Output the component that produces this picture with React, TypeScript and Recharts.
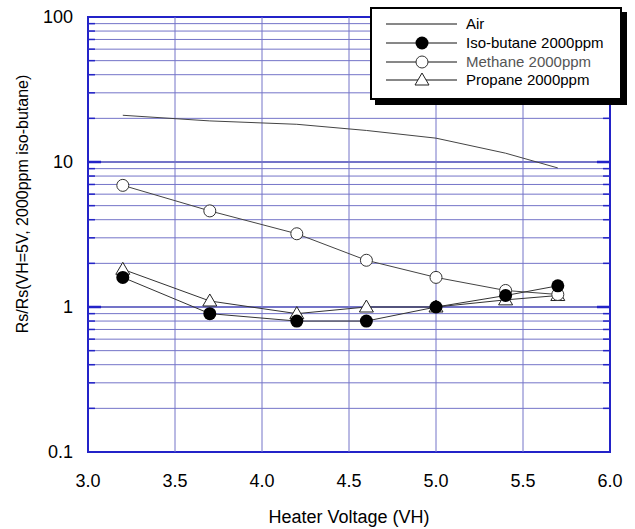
import React from 'react';
import { LineChart, Line, XAxis, YAxis, ReferenceLine, ReferenceArea, Legend } from 'recharts';

const voltages = [3.2, 3.7, 4.2, 4.6, 5.0, 5.4, 5.7];
const air = [21, 19.2, 18.2, 16.5, 14.6, 11.5, 9.1];
const isoButane = [1.6, 0.9, 0.8, 0.8, 1.0, 1.2, 1.4];
const methane = [6.9, 4.6, 3.2, 2.1, 1.6, 1.3, 1.22];
const propane = [1.82, 1.1, 0.9, 1.0, 1.0, 1.12, 1.2];

const xTicks = [3.0, 3.5, 4.0, 4.5, 5.0, 5.5, 6.0];
const yTicks = [0.1, 1, 10, 100];
const xGrid = [3.5, 4.0, 4.5, 5.0, 5.5];
const majorGrid = [1, 10];
const minorGrid = [0.2, 0.3, 0.4, 0.5, 0.6, 0.7, 0.8, 0.9, 2, 3, 4, 5, 6, 7, 8, 9, 20, 30, 40, 50, 60, 70, 80, 90];

const data = voltages.map((v, i) => ({
  v,
  air: air[i],
  iso: isoButane[i],
  methane: methane[i],
  propane: propane[i],
}));

const FONT = '"Liberation Sans", Arial, Helvetica, sans-serif';
const GRID = '#7474c8';
const AXIS = '#2323c8';
const LINE = '#333333';

const Triangle = (props: any) => {
  const { cx, cy } = props;
  if (cx == null || cy == null) return null;
  return (
    <path
      d={`M${cx},${cy - 7} L${cx + 7},${cy + 5} L${cx - 7},${cy + 5} Z`}
      fill="#fff"
      stroke="#222"
      strokeWidth={1}
    />
  );
};

const legendRows = [
  { label: 'Air', marker: 'none', color: '#000' },
  { label: 'Iso-butane 2000ppm', marker: 'filled', color: '#000' },
  { label: 'Methane 2000ppm', marker: 'open', color: '#555' },
  { label: 'Propane 2000ppm', marker: 'triangle', color: '#000' },
];

const LegendBox = () => (
  <div
    style={{
      width: 252,
      height: 93,
      background: '#fff',
      border: '2px solid #000',
      boxShadow: '5px 5px 0 #000',
      boxSizing: 'border-box',
      fontFamily: FONT,
      fontSize: 15,
      paddingTop: 6,
    }}
  >
    {legendRows.map((r) => (
      <div key={r.label} style={{ display: 'flex', alignItems: 'center', height: 18.7 }}>
        <svg width={94} height={18} style={{ display: 'block' }}>
          <line x1={14} y1={9} x2={85} y2={9} stroke="#111" strokeWidth={1} />
          {r.marker === 'filled' && <circle cx={50} cy={9} r={6.5} fill="#000" />}
          {r.marker === 'open' && <circle cx={50} cy={9} r={6} fill="#fff" stroke="#333" />}
          {r.marker === 'triangle' && (
            <path d="M50,2 L57,14 L43,14 Z" fill="#fff" stroke="#222" />
          )}
        </svg>
        <span style={{ color: r.color, lineHeight: '18px', whiteSpace: 'nowrap' }}>{r.label}</span>
      </div>
    ))}
  </div>
);

const YTick = (props: any) => {
  const { x, y, payload } = props;
  return (
    <text x={x} y={y} dy={6} textAnchor="end" fontFamily={FONT} fontSize={18} fill="#000">
      {String(payload.value)}
    </text>
  );
};

const XTick = (props: any) => {
  const { x, y, payload } = props;
  return (
    <text x={x} y={y} dy={6} dominantBaseline="central" textAnchor="middle" fontFamily={FONT} fontSize={18} fill="#000">
      {Number(payload.value).toFixed(1)}
    </text>
  );
};

export default function App() {
  const minorLen = 0.04;
  const majorLen = 0.075;
  return (
    <div style={{ position: 'absolute', left: 0, top: 0, width: 635, height: 529, background: '#fff' }}>
      <LineChart
        width={635}
        height={529}
        data={data}
        margin={{ top: 17, right: 25, bottom: 0, left: 0 }}
      >
        <XAxis
          dataKey="v"
          type="number"
          domain={[3, 6]}
          ticks={xTicks}
          tick={<XTick />}
          tickLine={false}
          axisLine={false}
          tickSize={0}
          tickMargin={23}
          height={77}
          allowDataOverflow
          label={(p: any) => (
            <text
              x={349}
              y={517}
              textAnchor="middle"
              dominantBaseline="central"
              fontFamily={FONT}
              fontSize={18}
              fill="#000"
            >
              Heater Voltage (VH)
            </text>
          )}
        />
        <YAxis
          type="number"
          scale="log"
          domain={[0.1, 100]}
          ticks={yTicks}
          tick={<YTick />}
          tickLine={false}
          axisLine={false}
          tickSize={0}
          tickMargin={15}
          width={88}
          allowDataOverflow
          label={(p: any) => (
            <text
              x={22}
              y={204}
              transform="rotate(-90 22 204)"
              textAnchor="middle"
              dominantBaseline="central"
              fontFamily={FONT}
              fontSize={16}
              fill="#000"
            >
              Rs/Rs(VH=5V, 2000ppm iso-butane)
            </text>
          )}
        />
        {minorGrid.map((g) => (
          <ReferenceLine key={'m' + g} y={g} stroke={GRID} strokeWidth={1} />
        ))}
        {majorGrid.map((g) => (
          <ReferenceLine key={'M' + g} y={g} stroke={GRID} strokeWidth={2} />
        ))}
        {xGrid.map((g) => (
          <ReferenceLine key={'x' + g} x={g} stroke={GRID} strokeWidth={1} />
        ))}
        {minorGrid.map((g) => (
          <ReferenceLine key={'tl' + g} segment={[{ x: 3, y: g }, { x: 3 + minorLen, y: g }]} stroke={AXIS} strokeWidth={1.5} />
        ))}
        {minorGrid.map((g) => (
          <ReferenceLine key={'tr' + g} segment={[{ x: 6 - minorLen, y: g }, { x: 6, y: g }]} stroke={AXIS} strokeWidth={1.5} />
        ))}
        {majorGrid.map((g) => (
          <ReferenceLine key={'Tl' + g} segment={[{ x: 3, y: g }, { x: 3 + majorLen, y: g }]} stroke={AXIS} strokeWidth={2.5} />
        ))}
        {majorGrid.map((g) => (
          <ReferenceLine key={'Tr' + g} segment={[{ x: 6 - majorLen, y: g }, { x: 6, y: g }]} stroke={AXIS} strokeWidth={2.5} />
        ))}
        <ReferenceArea x1={3} x2={6} y1={0.1} y2={100} stroke={AXIS} strokeWidth={2} fill="none" fillOpacity={0} />
        <Line dataKey="air" stroke="#444" strokeWidth={1} dot={false} isAnimationActive={false} />
        <Line dataKey="propane" stroke={LINE} strokeWidth={1} dot={<Triangle />} isAnimationActive={false} />
        <Line dataKey="methane" stroke="#444" strokeWidth={1} dot={{ r: 6, fill: '#fff', stroke: '#333', strokeWidth: 1 }} isAnimationActive={false} />
        <Line dataKey="iso" stroke={LINE} strokeWidth={1} dot={{ r: 6.5, fill: '#000', stroke: '#000', strokeWidth: 0 }} isAnimationActive={false} />
        <Legend
          layout="vertical"
          align="center"
          verticalAlign="middle"
          content={<LegendBox />}
          wrapperStyle={{ position: 'absolute', top: 7, left: 370, width: 252, height: 93 }}
        />
      </LineChart>
    </div>
  );
}
